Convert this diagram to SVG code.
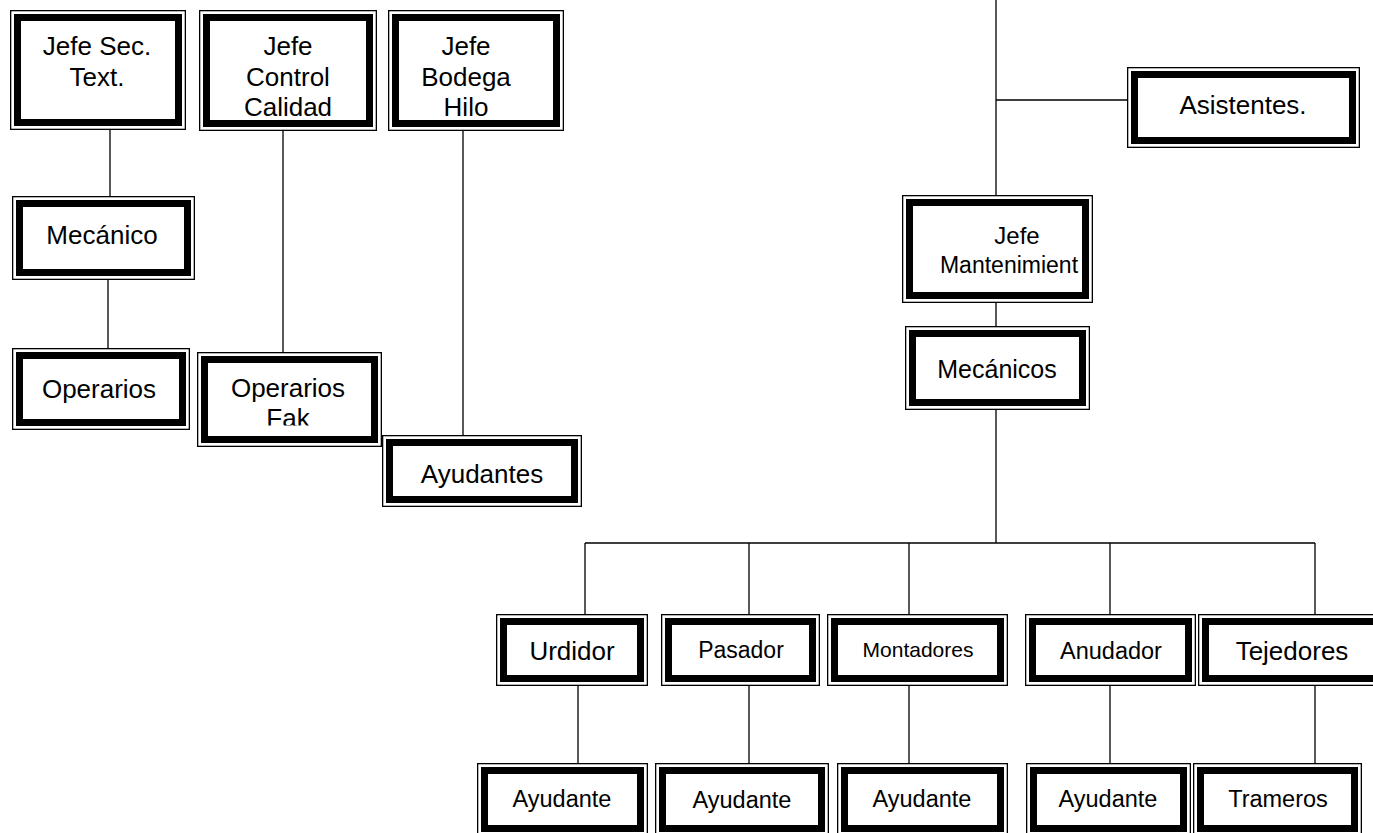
<svg xmlns="http://www.w3.org/2000/svg" width="1373" height="833" viewBox="0 0 1373 833">
<style>
.o{fill:#fff;stroke:#000;stroke-width:1.3}
.i{fill:#fff;stroke:#000;stroke-width:7}
.t{font-family:"Liberation Sans",Arial,sans-serif;font-size:26px;text-anchor:middle;fill:#000}
.c{stroke:#000;stroke-width:1.3;fill:none}
</style>
<defs>
<clipPath id="fakclip"><rect x="200" y="355" width="180" height="70.5"/></clipPath>
</defs>
<rect width="1373" height="833" fill="#fff"/>
<g id="connectors">
<path class="c" d="M110,130V196M108,280V348M283,131V352M463,131V435"/>
<path class="c" d="M996,0V195M996,100H1127M996,303V326M996,410V543M585,543H1315"/>
<path class="c" d="M585,543V614M749,543V614M909,543V614M1110,543V614M1315,543V614"/>
<path class="c" d="M578,686V763M749,686V763M909,686V763M1110,686V763M1315,686V763"/>
</g>
<g id="n-jefesec"><rect class="o" x="10.65" y="10.65" width="174.7" height="118.7"/><rect class="i" x="17.5" y="17.5" width="161" height="105"/><text class="t" x="97" y="55">Jefe Sec.</text><text class="t" x="97" y="86">Text.</text></g>
<g id="n-jefecontrol"><rect class="o" x="199.65" y="10.65" width="176.7" height="119.7"/><rect class="i" x="206.5" y="17.5" width="163" height="106"/><text class="t" x="288" y="55">Jefe</text><text class="t" x="288" y="86">Control</text><text class="t" x="288" y="116">Calidad</text></g>
<g id="n-jefebodega"><rect class="o" x="388.65" y="10.65" width="174.7" height="119.7"/><rect class="i" x="395.5" y="17.5" width="161" height="106"/><text class="t" x="466" y="55">Jefe</text><text class="t" x="466" y="86">Bodega</text><text class="t" x="466" y="116">Hilo</text></g>
<g id="n-mecanico"><rect class="o" x="12.65" y="196.65" width="181.7" height="82.7"/><rect class="i" x="19.5" y="203.5" width="168" height="69"/><text class="t" x="102" y="244">Mecánico</text></g>
<g id="n-operarios"><rect class="o" x="12.65" y="348.65" width="176.7" height="80.7"/><rect class="i" x="19.5" y="355.5" width="163" height="67"/><text class="t" x="99" y="398">Operarios</text></g>
<g id="n-operariosfak"><rect class="o" x="197.65" y="352.65" width="183.7" height="93.7"/><rect class="i" x="204.5" y="359.5" width="170" height="80"/><text class="t" x="288" y="397">Operarios</text><text class="t" x="288" y="427" clip-path="url(#fakclip)">Fak</text></g>
<g id="n-ayudantes"><rect class="o" x="382.65" y="435.65" width="198.7" height="70.7"/><rect class="i" x="389.5" y="442.5" width="185" height="57"/><text class="t" x="482" y="483">Ayudantes</text></g>
<g id="n-asistentes"><rect class="o" x="1127.65" y="67.65" width="231.7" height="79.7"/><rect class="i" x="1134.5" y="74.5" width="218" height="66"/><text class="t" x="1243" y="114">Asistentes.</text></g>
<g id="n-jefemant"><rect class="o" x="902.65" y="195.65" width="189.7" height="106.7"/><rect class="i" x="909.5" y="202.5" width="176" height="93"/><text class="t" x="1017" y="244" style="font-size:24px">Jefe</text><text class="t" x="1009" y="273" style="font-size:23px">Mantenimient</text></g>
<g id="n-mecanicos"><rect class="o" x="905.65" y="326.65" width="183.7" height="82.7"/><rect class="i" x="912.5" y="333.5" width="170" height="69"/><text class="t" x="997" y="378" style="font-size:25px">Mecánicos</text></g>
<g id="n-urdidor"><rect class="o" x="496.65" y="614.65" width="150.7" height="70.7"/><rect class="i" x="503.5" y="621.5" width="137" height="57"/><text class="t" x="572" y="660">Urdidor</text></g>
<g id="n-pasador"><rect class="o" x="661.65" y="614.65" width="157.7" height="70.7"/><rect class="i" x="668.5" y="621.5" width="144" height="57"/><text class="t" x="741" y="658" style="font-size:23px">Pasador</text></g>
<g id="n-montadores"><rect class="o" x="827.65" y="614.65" width="179.7" height="70.7"/><rect class="i" x="834.5" y="621.5" width="166" height="57"/><text class="t" x="918" y="657" style="font-size:21px">Montadores</text></g>
<g id="n-anudador"><rect class="o" x="1025.65" y="614.65" width="169.7" height="70.7"/><rect class="i" x="1032.5" y="621.5" width="156" height="57"/><text class="t" x="1111" y="659" style="font-size:23.5px">Anudador</text></g>
<g id="n-tejedores"><rect class="o" x="1198.65" y="614.65" width="187.7" height="70.7"/><rect class="i" x="1205.5" y="621.5" width="174" height="57"/><text class="t" x="1292" y="660">Tejedores</text></g>
<g id="n-ayud1"><rect class="o" x="477.65" y="763.65" width="169.7" height="72"/><rect class="i" x="484.5" y="770.5" width="156" height="58"/><text class="t" x="562" y="807" style="font-size:23.5px">Ayudante</text></g>
<g id="n-ayud2"><rect class="o" x="655.65" y="763.65" width="172.7" height="72"/><rect class="i" x="662.5" y="770.5" width="159" height="58"/><text class="t" x="742" y="808" style="font-size:23.5px">Ayudante</text></g>
<g id="n-ayud3"><rect class="o" x="837.65" y="763.65" width="169.7" height="72"/><rect class="i" x="844.5" y="770.5" width="156" height="58"/><text class="t" x="922" y="807" style="font-size:23.5px">Ayudante</text></g>
<g id="n-ayud4"><rect class="o" x="1026.65" y="763.65" width="163.7" height="72"/><rect class="i" x="1033.5" y="770.5" width="150" height="58"/><text class="t" x="1108" y="807" style="font-size:23.5px">Ayudante</text></g>
<g id="n-trameros"><rect class="o" x="1193.65" y="763.65" width="167.7" height="72"/><rect class="i" x="1200.5" y="770.5" width="154" height="58"/><text class="t" x="1278" y="807" style="font-size:23.5px">Trameros</text></g>
</svg>
